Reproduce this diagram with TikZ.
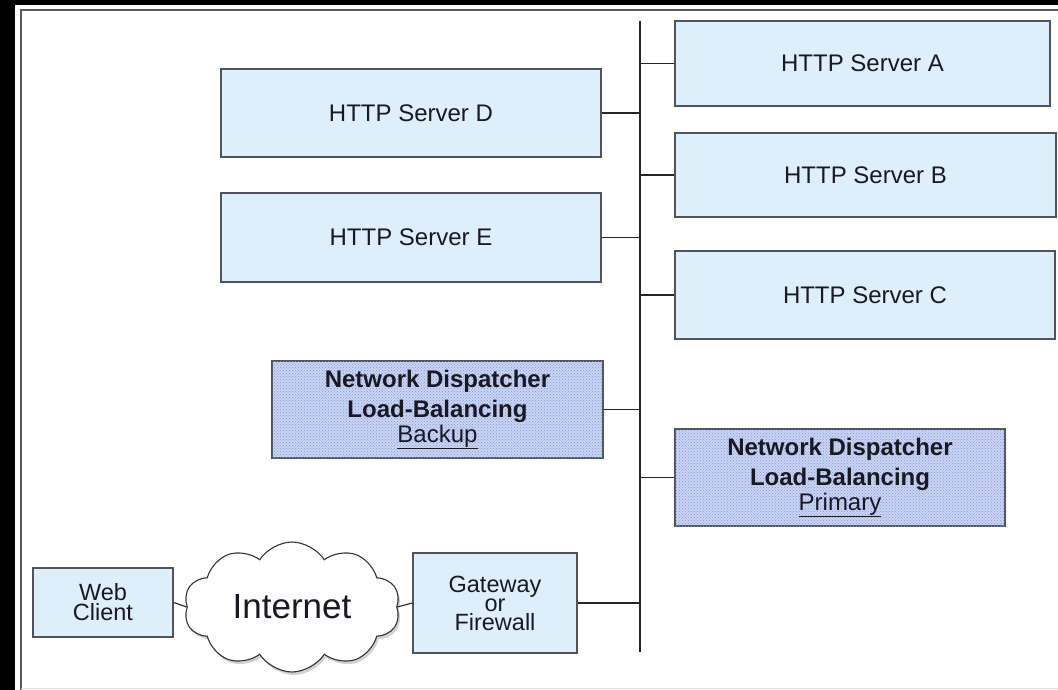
\documentclass[tikz,border=0pt]{standalone}
\usepackage{fontspec}
\setmainfont{Liberation Sans}
\usetikzlibrary{shapes.symbols,shadows,patterns}
\definecolor{boxfill}{RGB}{222,239,252}
\definecolor{boxline}{RGB}{80,84,90}
\definecolor{ndfill}{RGB}{200,212,242}
\definecolor{ndpat}{RGB}{130,150,215}
\definecolor{txt}{RGB}{25,25,35}
\tikzset{
  box/.style={draw=boxline, line width=1.4pt, fill=boxfill, rectangle, inner sep=0pt,
    text=txt, font=\fontsize{24}{28}\selectfont, align=center},
  ndbox/.style={draw=boxline, line width=1.4pt, fill=ndfill, rectangle, inner sep=0pt,
    text=txt, align=center, font=\fontsize{24}{28}\selectfont\bfseries,
    postaction={pattern=crosshatch dots, pattern color=ndpat}},
  wire/.style={draw=black!85, line width=1.1pt},
}
\begin{document}
\begin{tikzpicture}[x=1pt,y=-1pt]
\useasboundingbox (0,0) rectangle (1058,690);
\fill[white] (0,0) rectangle (1058,690);
% outer black strips and frame
\fill[black] (0,0) rectangle (15,690);
\fill[black] (0,0) rectangle (1058,5);
\draw[black!65, line width=1.2pt] (1058,10) -- (21,10) -- (21,690);
\draw[black!12, line width=1pt] (21,688) -- (1058,688);

% bus
\coordinate (bustop) at (640,21);
\coordinate (busbot) at (640,652);
\draw[wire] (bustop) -- (busbot);

% servers
\node[box, minimum width=375, minimum height=85] (A) at (862.5,63.5) {HTTP Server A};
\node[box, minimum width=381, minimum height=84] (B) at (865.5,175) {HTTP Server B};
\node[box, minimum width=380, minimum height=88] (C) at (865,295) {HTTP Server C};
\node[box, minimum width=380, minimum height=88] (D) at (411,113) {HTTP Server D};
\node[box, minimum width=380, minimum height=89] (E) at (411,237.5) {HTTP Server E};

% dispatchers
\node[ndbox, minimum width=331, minimum height=97] (bk) at (437.5,409.5)
  {Network Dispatcher\\[2pt]Load-Balancing\\[-3pt]\normalfont\underline{Backup}};
\node[ndbox, minimum width=330, minimum height=97] (pr) at (840,477.5)
  {Network Dispatcher\\[2pt]Load-Balancing\\[-3pt]\normalfont\underline{Primary}};

% bottom row
\node[box, minimum width=140, minimum height=69, font=\fontsize{23.5}{20}\selectfont] (web) at (103,602.5) {Web\\Client};
\node[cloud, cloud puffs=10, cloud puff arc=115, minimum width=216, minimum height=130,
  draw=black!80, line width=1.1pt, fill=white, inner sep=0pt, aspect=1.65,
  drop shadow={shadow xshift=2pt, shadow yshift=-3pt, fill=black!35},
  text=txt, font=\fontsize{35}{40}\selectfont] (net) at (292,607) {Internet};
\node[box, minimum width=164, minimum height=100, font=\fontsize{23.5}{19}\selectfont] (gw) at (495,603) {Gateway\\or\\Firewall};

% connectors
\draw[wire] (A.west) -- (A.west -| bustop);
\draw[wire] (B.west) -- (B.west -| bustop);
\draw[wire] (C.west) -- (C.west -| bustop);
\draw[wire] (D.east) -- (D.east -| bustop);
\draw[wire] (E.east) -- (E.east -| bustop);
\draw[wire] (bk.east) -- (bk.east -| bustop);
\draw[wire] (pr.west) -- (pr.west -| bustop);
\draw[wire] (gw.east) -- (gw.east -| bustop);
\draw[wire] (web.east) -- (net.west);
\draw[wire] (net.east) -- (gw.west);
\end{tikzpicture}
\end{document}
